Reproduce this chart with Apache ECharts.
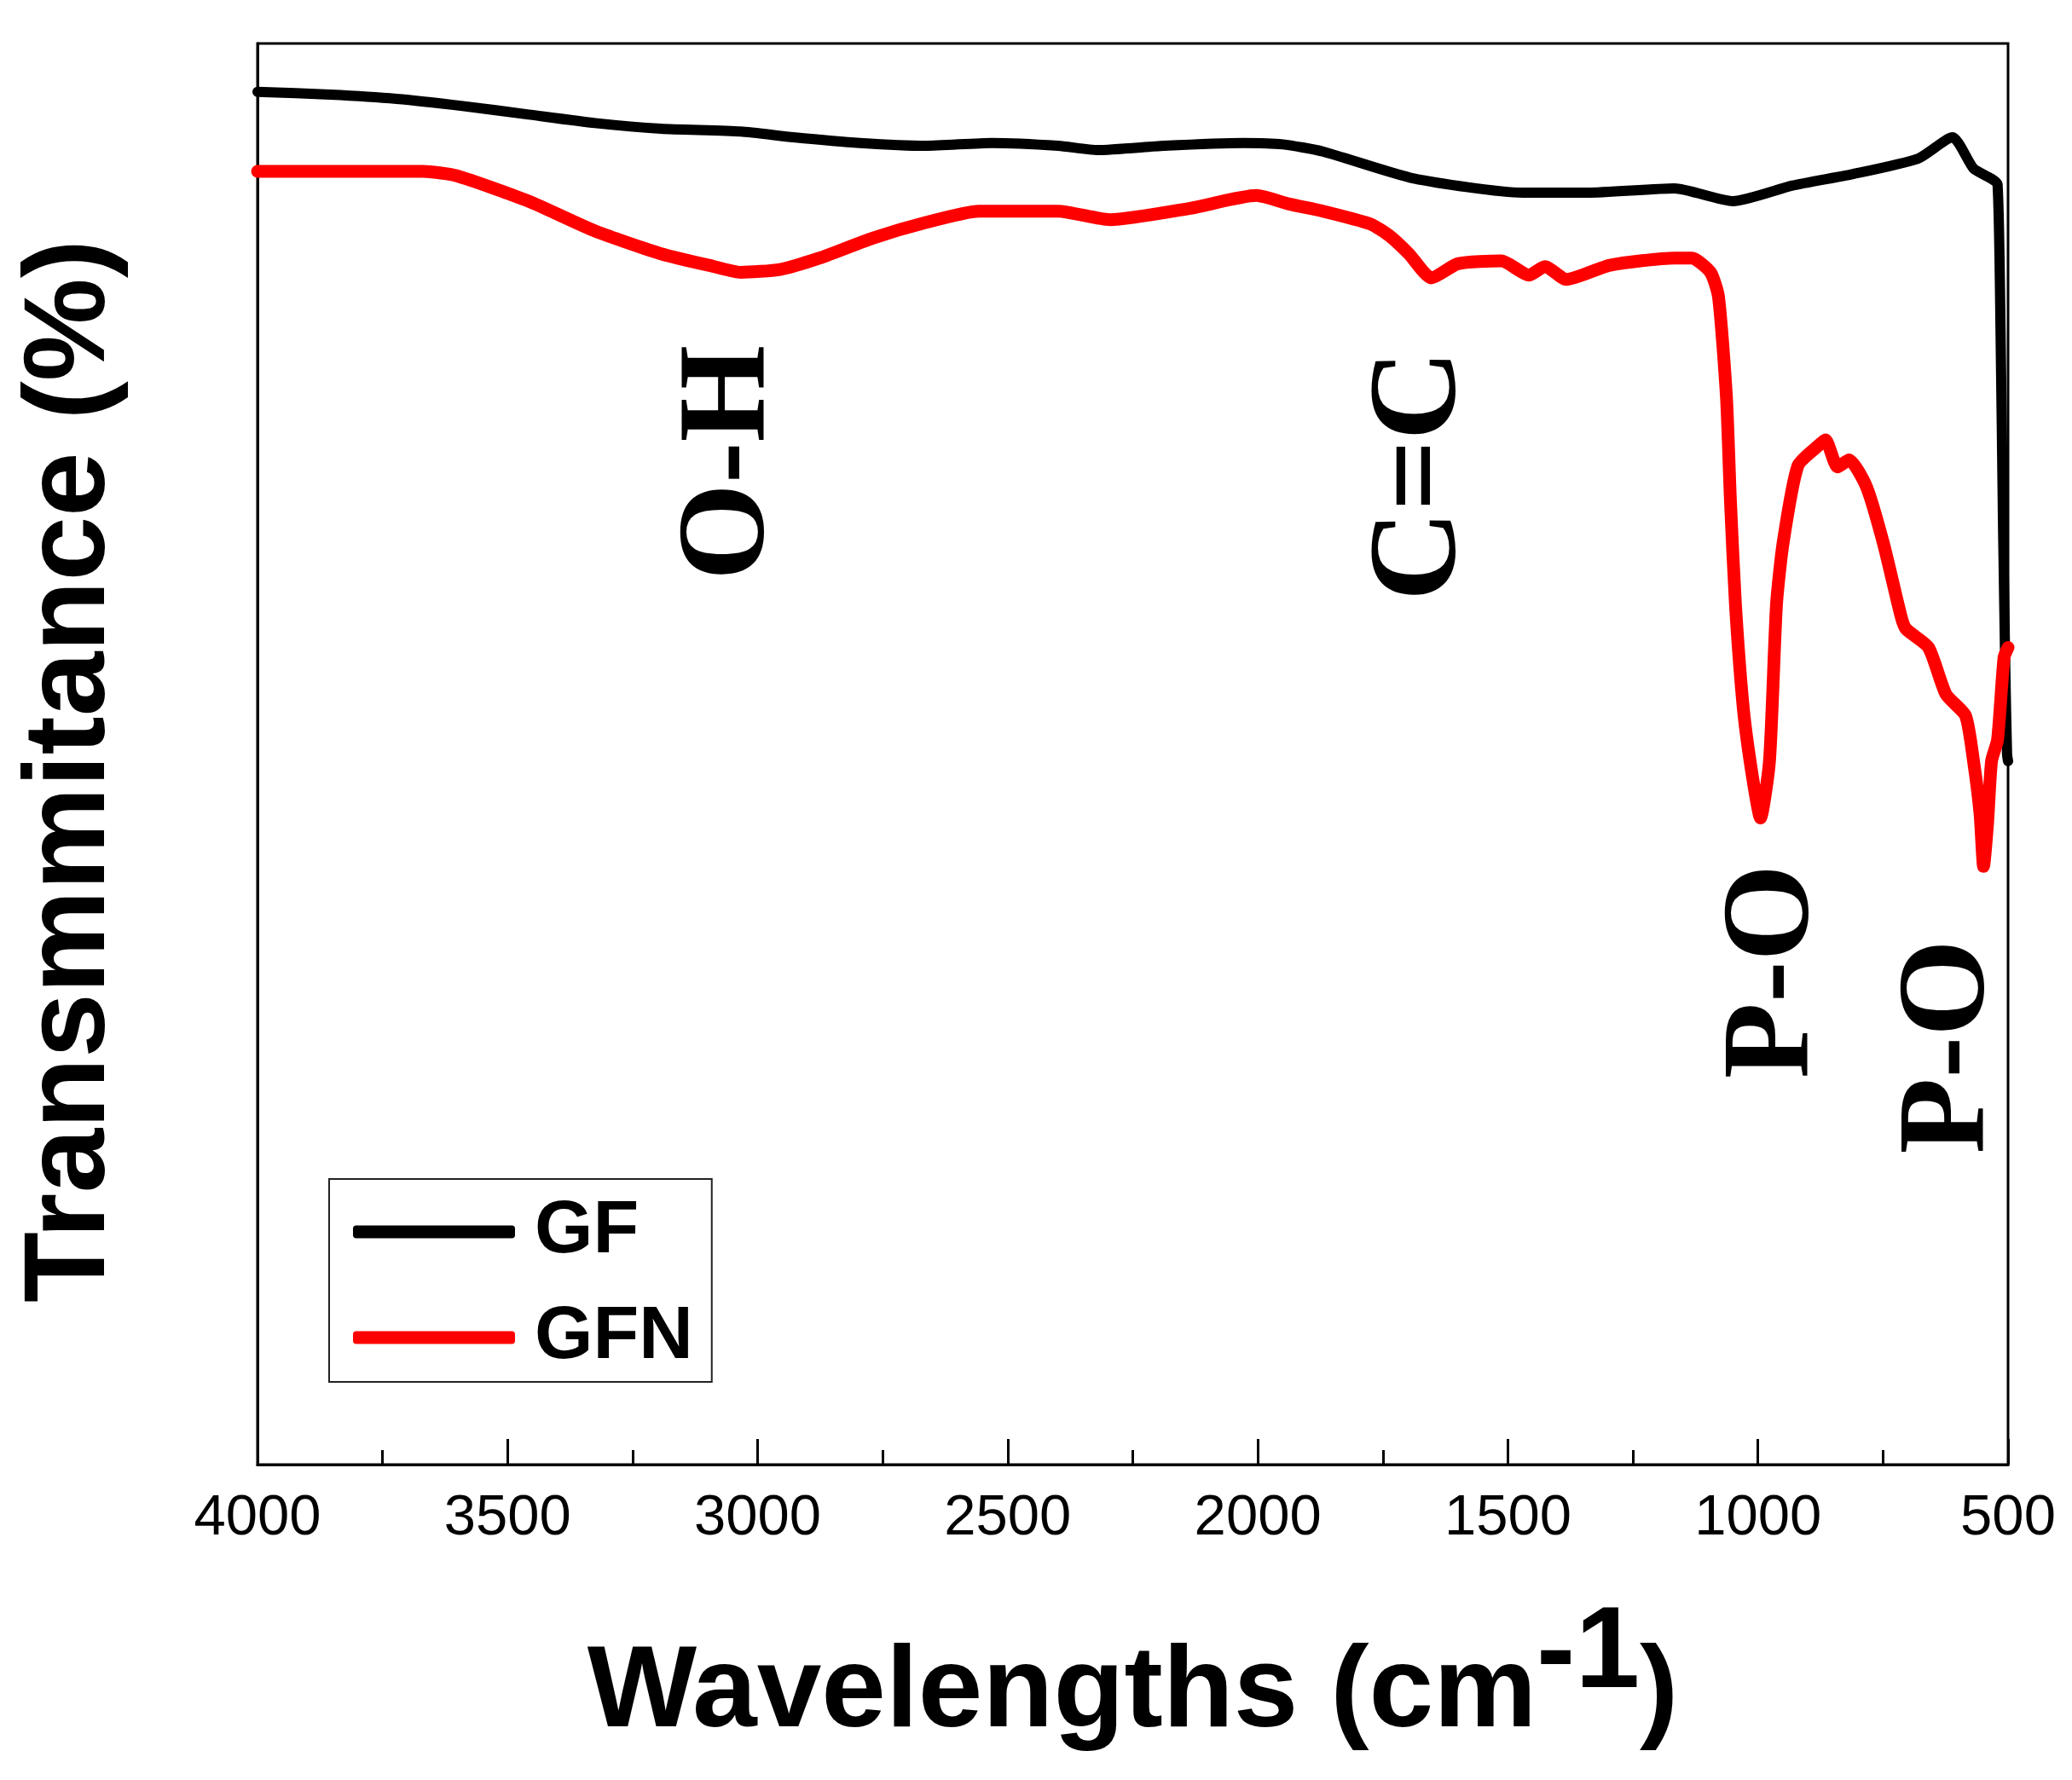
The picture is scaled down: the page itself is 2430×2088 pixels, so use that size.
<!DOCTYPE html>
<html>
<head>
<meta charset="UTF-8">
<title>FTIR GF / GFN</title>
<script src="https://cdn.jsdelivr.net/npm/echarts@6/dist/echarts.min.js"></script>
<style>
  html, body { margin: 0; padding: 0; background: #fff; }
  #main { width: 2430px; height: 2088px; }
</style>
</head>
<body>
<div id="main"></div>
<script>
// wavenumber (cm-1) and transmittance (arbitrary %)
var gfWave = [4000, 3854, 3722, 3590, 3458, 3325, 3193, 3034, 2929, 2796, 2664, 2532, 2399, 2320,
              2188, 2029, 1950, 1870, 1688, 1471, 1341, 1167, 1050, 931, 812, 680, 611, 569,
              534, 521, 515, 510, 505, 502, 500];
var gfT    = [96.6, 96.4, 96.1, 95.6, 95.0, 94.4, 94.0, 93.8, 93.4, 93.0, 92.8, 93.0, 92.8, 92.5,
              92.8, 93.0, 92.9, 92.4, 90.5, 89.5, 89.5, 89.8, 88.9, 90.0, 90.8, 91.9, 93.4, 91.2,
              90.5, 90.1, 79.8, 66.0, 55.0, 50.0, 49.5];

var gfnWave = [4000, 3669, 3603, 3458, 3325, 3193, 3087, 3034, 2955, 2876, 2770, 2664, 2558, 2399,
               2296, 2135, 2003, 1937, 1870, 1775, 1738, 1698, 1653, 1600, 1513, 1458, 1426, 1383,
               1296, 1167, 1132, 1095, 1079, 1063, 1055, 1045, 1029, 1011, 995, 977, 963, 950,
               920, 876, 865, 841, 818, 783, 749, 714, 704, 659, 624, 585, 569, 556, 549, 541,
               533, 521, 508, 500];
var gfnT    = [91.0, 91.0, 90.7, 88.9, 86.8, 85.2, 84.3, 83.9, 84.1, 84.9, 86.3, 87.4, 88.2, 88.2,
               87.6, 88.4, 89.3, 88.7, 88.2, 87.3, 86.5, 85.2, 83.5, 84.5, 84.7, 83.7, 84.3, 83.4,
               84.4, 84.9, 84.9, 83.9, 82.2, 75.1, 67.8, 60.5, 53.1, 48.4, 45.5, 49.5, 60.5, 64.8,
               70.3, 71.8, 72.1, 70.2, 70.7, 68.8, 64.8, 59.7, 58.8, 57.5, 54.2, 52.7, 49.5, 45.8,
               42.1, 45.1, 49.5, 51.0, 56.8, 57.5];

var xTicks = [4000, 3500, 3000, 2500, 2000, 1500, 1000, 500];

// band labels: text, wavenumber, transmittance at label centre
var bandText = ['O-H', 'C=C', 'P-O', 'P-O'];
var bandWave = [3054, 1671, 965, 613];
var bandT    = [70.5, 69.6, 34.7, 29.4];

function pairs(xs, ys) {
  return xs.map(function (x, i) { return [x, ys[i]]; });
}

var sans = "Arial, 'Liberation Sans', sans-serif";
var serif = "'Times New Roman', 'Liberation Serif', serif";

var chart = echarts.init(document.getElementById('main'));

var option = {
  backgroundColor: '#fff',
  animation: false,
  grid: {
    left: 302, right: 75, top: 51, bottom: 370,
    outerBoundsMode: 'none',
    show: true, borderColor: '#000', borderWidth: 3
  },
  legend: {
    orient: 'vertical',
    left: 386, top: 1383,
    padding: [18, 22, 8, 28],
    itemGap: 36,
    itemWidth: 190, itemHeight: 15,
    borderColor: '#222', borderWidth: 2,
    icon: 'roundRect',
    textStyle: { fontFamily: sans, fontWeight: 'bold', fontSize: 88, color: '#000', padding: [0, 0, 0, 18] },
    data: ['GF', 'GFN']
  },
  xAxis: {
    type: 'value',
    inverse: true,
    min: 500, max: 4000, interval: 500,
    name: '{a|Wavelengths (cm}{s|-1}{a|)}',
    nameLocation: 'middle',
    nameGap: 155,
    nameTextStyle: {
      rich: {
        a: { fontFamily: sans, fontWeight: 'bold', fontSize: 136, color: '#000', lineHeight: 182, verticalAlign: 'bottom' },
        s: { fontFamily: sans, fontWeight: 'bold', fontSize: 136, color: '#000', lineHeight: 140, verticalAlign: 'top' }
      }
    },
    axisLine: { show: true, lineStyle: { color: '#000', width: 3 } },
    axisTick: { show: true, inside: true, length: 30, lineStyle: { color: '#000', width: 3 } },
    minorTick: { show: true, splitNumber: 2, length: 17, lineStyle: { color: '#000', width: 3 } },
    splitLine: { show: false },
    axisLabel: {
      margin: 30, fontFamily: sans, fontSize: 67, color: '#000',
      formatter: function (v) { return xTicks.indexOf(v) >= 0 ? String(v) : ''; }
    }
  },
  yAxis: {
    type: 'value',
    min: 0, max: 100,
    name: 'Transmmitance (%)',
    nameLocation: 'middle',
    nameGap: 150,
    nameTextStyle: { fontFamily: sans, fontWeight: 'bold', fontSize: 136, color: '#000', padding: [0, 40, 0, 0] },
    axisLine: { show: true, lineStyle: { color: '#000', width: 3 } },
    axisTick: { show: false },
    axisLabel: { show: false },
    splitLine: { show: false }
  },
  series: [
    {
      name: 'GF', type: 'line', showSymbol: false, symbol: 'none', smooth: 0.2,
      data: pairs(gfWave, gfT),
      color: '#000',
      lineStyle: { color: '#000', width: 12, join: 'round', cap: 'round' }
    },
    {
      name: 'GFN', type: 'line', showSymbol: false, symbol: 'none', smooth: 0.2,
      data: pairs(gfnWave, gfnT),
      color: '#ff0000',
      lineStyle: { color: '#ff0000', width: 15, join: 'round', cap: 'round' }
    }
  ]
};

chart.setOption(option);

var labels = bandText.map(function (t, i) {
  var p = chart.convertToPixel({ gridIndex: 0 }, [bandWave[i], bandT[i]]);
  return {
    type: 'text',
    x: p[0], y: p[1],
    rotation: Math.PI / 2,
    style: {
      text: t, fill: '#000',
      font: 'bold 146px ' + serif,
      align: 'center', verticalAlign: 'middle'
    }
  };
});
chart.setOption({ graphic: labels });
</script>
</body>
</html>
